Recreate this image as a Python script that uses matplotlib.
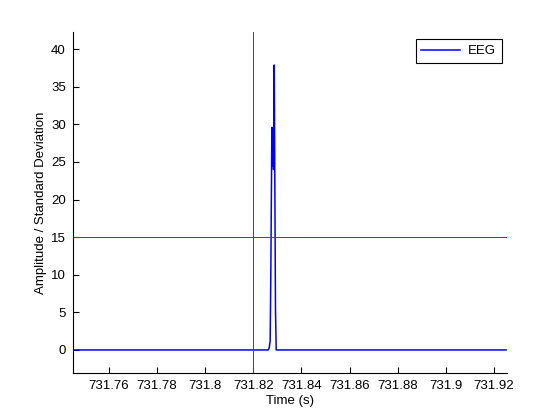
import matplotlib
matplotlib.use('Agg')
import matplotlib.pyplot as plt

# trace (time in s, amplitude / std)
time = [731.745, 731.8262, 731.8266, 731.8270, 731.8273, 731.8277, 731.8280,
        731.8282, 731.8284, 731.8287, 731.8289, 731.8292, 731.8295, 731.925]
amp = [0, 0, 0.3, 1.2, 11.5, 29.6, 24.5, 29.5, 24.0, 37.9, 24.2, 5.5, 0, 0]

threshold = 15
onset = 731.82

xticks = [731.76, 731.78, 731.80, 731.82, 731.84, 731.86, 731.88, 731.90, 731.92]
xticklabels = ['731.76', '731.78', '731.8', '731.82', '731.84', '731.86', '731.88', '731.9', '731.92']
yticks = [0, 5, 10, 15, 20, 25, 30, 35, 40]

plt.rcParams['font.family'] = ['Liberation Sans', 'DejaVu Sans']
plt.rcParams['font.size'] = 9.5

fig = plt.figure(figsize=(5.6, 4.2), dpi=100)
ax = fig.add_axes([0.13, 0.112, 0.775, 0.812])

ax.plot(time, amp, color='blue', lw=1.1, label='EEG')
ax.axvline(onset, color='red', lw=0.72, snap=True)
ax.axhline(threshold, color='red', lw=0.72, snap=True)

ax.set_xlim(731.745, 731.9253)
ax.set_ylim(-3.06, 42.3)
ax.set_xticks(xticks)
ax.set_xticklabels(xticklabels)
ax.set_yticks(yticks)

ax.spines['top'].set_visible(False)
ax.spines['right'].set_visible(False)
for s in ['left', 'bottom']:
    ax.spines[s].set_linewidth(0.8)
ax.tick_params(direction='in', length=4, width=0.8, pad=5)

ax.set_xlabel('Time (s)', labelpad=2)
ax.set_ylabel('Amplitude / Standard Deviation', labelpad=3)

leg = ax.legend(loc='upper right', bbox_to_anchor=(0.988, 0.979), fancybox=False,
                edgecolor='black', framealpha=1, handlelength=2.9, borderpad=0.45,
                handletextpad=0.6, borderaxespad=0)
leg.get_frame().set_linewidth(0.8)

fig.savefig('out.png', dpi=100)
